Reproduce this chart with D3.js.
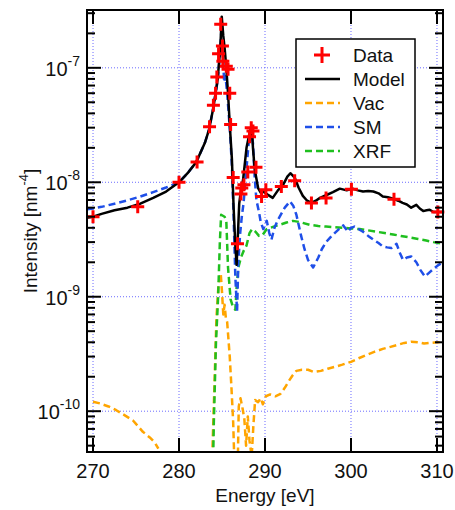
<!DOCTYPE html>
<html>
<head>
<meta charset="utf-8">
<script src="https://cdn.jsdelivr.net/npm/d3@7"></script>
<style>
  body { margin: 0; background: #fff; }
  text { font-family: "Liberation Sans", Arial, sans-serif; fill: #111; }
</style>
</head>
<body>
<svg id="chart" width="455" height="510"></svg>
<script>
// data (energy in eV, intensity in nm^-4)
var dataPts = [[270.0,5.0e-9],[275.2,6.1e-9],[280.0,1.0e-8],[282.1,1.5e-8],[283.55,3.05e-8],
  [284.0,4.7e-8],[284.25,6.0e-8],[284.4,8.3e-8],[284.6,1.33e-7],[284.85,2.4e-7],[285.05,1.55e-7],
  [285.1,1.14e-7],[285.5,1.03e-7],[285.7,9.7e-8],[285.9,6.0e-8],[286.0,3.2e-8],[286.3,1.1e-8],
  [286.8,2.9e-9],[287.2,7.9e-9],[287.3,8.9e-9],[287.55,9.5e-9],[288.0,1.23e-8],[288.2,2.5e-8],
  [288.4,3.0e-8],[288.6,2.8e-8],[288.95,1.35e-8],[289.6,7.5e-9],[290.1,8.6e-9],[291.9,9.2e-9],
  [293.45,1.03e-8],[295.4,6.6e-9],[297.1,7.3e-9],[300.05,8.7e-9],[305.0,7.1e-9],[310.1,5.5e-9]];

var modelPts = [[269.3,4.9e-9],[270,5.0e-9],[271,5.3e-9],[272.5,5.7e-9],[274,6.0e-9],[275.5,6.5e-9],
  [277,7.3e-9],[278.5,8.3e-9],[280,1.0e-8],[281,1.2e-8],[282,1.5e-8],[283,2.2e-8],[283.5,2.9e-8],
  [284,4.5e-8],[284.5,8.0e-8],[284.8,1.5e-7],[284.97,2.8e-7],[285.15,1.9e-7],[285.3,1.5e-7],
  [285.5,1.0e-7],[285.7,6.0e-8],[285.9,3.2e-8],[286.15,1.6e-8],[286.35,6.0e-9],[286.55,2.8e-9],
  [286.7,1.9e-9],[286.85,3.5e-9],[287.0,6.5e-9],[287.2,8.5e-9],[287.45,1.05e-8],[287.85,2.0e-8],
  [288.2,2.7e-8],[288.45,3.1e-8],[288.6,2.0e-8],[288.8,1.3e-8],[289.2,8.9e-9],[289.5,8.1e-9],
  [289.8,8.3e-9],[290.3,7.8e-9],[290.9,7.3e-9],[291.5,8.5e-9],[292.1,9.5e-9],[292.6,1.12e-8],
  [292.95,1.2e-8],[293.45,1.1e-8],[293.9,9.0e-9],[294.4,7.6e-9],[294.9,6.9e-9],[295.4,6.6e-9],
  [295.9,6.9e-9],[296.4,7.3e-9],[297.1,7.7e-9],[297.9,8.2e-9],[298.7,8.8e-9],[299.5,8.5e-9],
  [300.2,8.8e-9],[300.8,8.5e-9],[301.4,8.3e-9],[302.0,8.4e-9],[302.6,8.3e-9],[303.2,8.0e-9],
  [303.7,7.5e-9],[304.3,7.4e-9],[304.9,7.2e-9],[305.5,6.9e-9],[306.0,6.6e-9],[306.5,6.4e-9],
  [307.0,6.0e-9],[307.6,6.35e-9],[308.0,5.9e-9],[308.4,5.6e-9],[308.8,5.7e-9],[309.15,5.75e-9],
  [309.6,5.5e-9],[310.2,5.5e-9],[310.7,5.5e-9]];

// null = no value (gap in the log plot)
var vacPts = [[270.0,1.21e-10],[270.8,1.17e-10],[271.8,1.1e-10],[272.7,1.02e-10],[273.7,9.2e-11],
  [274.65,8.3e-11],[275.8,6.6e-11],[276.6,5.9e-11],[277.2,5.3e-11],[277.6,4.7e-11],[277.7,null],
  [283.7,null],[283.75,2e-11],[283.9,5e-11],[284.1,1.5e-10],[284.35,6.5e-10],[284.6,1.3e-9],
  [284.85,1.6e-9],[285.0,1.1e-9],[285.15,7e-10],[285.3,8.5e-10],[285.45,6.5e-10],[285.6,6e-10],
  [285.9,3e-10],[286.1,1.6e-10],[286.3,8e-11],[286.5,2.5e-11],[286.8,2.5e-11],[286.95,1.1e-10],
  [287.15,1.3e-10],[287.4,1.05e-10],[287.6,8.5e-11],[287.8,5e-11],[288.0,9e-11],[288.2,5.5e-11],
  [288.45,4e-11],[288.65,7.5e-11],[288.85,1.25e-10],[289.2,1.2e-10],[289.5,1.3e-10],
  [289.75,1.15e-10],[290.1,1.35e-10],[290.6,1.4e-10],[291.2,1.35e-10],[291.8,1.42e-10],
  [292.3,1.6e-10],[292.8,1.85e-10],[293.2,2.05e-10],[293.65,2.25e-10],[294.3,2.3e-10],
  [295.0,2.3e-10],[295.7,2.2e-10],[296.5,2.25e-10],[297.3,2.35e-10],[298.2,2.45e-10],
  [299.0,2.55e-10],[300.0,2.7e-10],[300.9,2.9e-10],[301.8,3.1e-10],[302.7,3.3e-10],
  [303.7,3.5e-10],[304.6,3.65e-10],[305.4,3.8e-10],[306.2,3.95e-10],[307.0,4.05e-10],
  [307.8,4.0e-10],[308.5,3.9e-10],[309.2,3.95e-10],[310.0,4.0e-10],[310.7,4.0e-10]];

var smPts = [[269.3,5.8e-9],[270,5.9e-9],[271,6.1e-9],[272.5,6.5e-9],[274,6.95e-9],[275.5,7.5e-9],
  [277,8.2e-9],[278.5,9.0e-9],[280,1.0e-8],[281,1.2e-8],[282,1.5e-8],[283,2.2e-8],[283.5,2.9e-8],
  [284,4.5e-8],[284.5,7.8e-8],[284.8,1.4e-7],[284.95,2.3e-7],[285.1,1.3e-7],[285.25,7.5e-8],
  [285.4,8.5e-8],[285.6,6e-8],[285.9,3e-8],[286.15,1.4e-8],[286.35,5e-9],[286.55,1.5e-9],
  [286.75,7.4e-10],[286.9,2e-9],[287.1,3.5e-9],[287.3,5e-9],[287.5,6.5e-9],[287.8,1.2e-8],
  [288.1,2.2e-8],[288.4,2.8e-8],[288.6,2.2e-8],[288.8,1.1e-8],[289.0,7e-9],[289.3,5.5e-9],
  [289.5,4.5e-9],[289.8,3.9e-9],[290.2,4.6e-9],[290.5,3.6e-9],[290.75,3.15e-9],[291.1,4.0e-9],
  [291.5,4.7e-9],[292.3,6.0e-9],[292.9,6.8e-9],[293.3,6.2e-9],[293.65,5.2e-9],[294.2,3.4e-9],
  [294.6,2.6e-9],[295.0,2.1e-9],[295.6,1.8e-9],[296.2,2.2e-9],[296.6,2.6e-9],[297.1,3.0e-9],
  [297.6,3.3e-9],[298.1,3.6e-9],[298.6,3.9e-9],[299.1,4.2e-9],[299.65,3.7e-9],[300.0,4.0e-9],
  [300.4,4.1e-9],[300.9,3.9e-9],[301.4,3.7e-9],[302.0,3.4e-9],[302.6,3.16e-9],[303.2,2.95e-9],
  [303.7,2.75e-9],[304.2,2.7e-9],[304.7,2.66e-9],[305.3,2.9e-9],[305.7,2.4e-9],[306.05,2.1e-9],
  [306.5,2.2e-9],[307.0,2.25e-9],[307.6,2.0e-9],[308.1,1.7e-9],[308.6,1.5e-9],[309.2,1.65e-9],
  [309.7,1.78e-9],[310.2,1.9e-9],[310.7,2.0e-9]];

var xrfPts = [[283.9,2e-11],[284.05,8e-11],[284.3,4e-10],[284.55,1.0e-9],[284.75,3e-9],
  [284.9,5.2e-9],[285.1,5.1e-9],[285.3,5.0e-9],[285.5,4.6e-9],[285.7,1.8e-9],[286.0,9.5e-10],
  [286.3,8e-10],[286.55,7.7e-10],[286.7,1.2e-9],[286.9,1.8e-9],[287.2,2.2e-9],[287.5,2.5e-9],
  [287.85,2.8e-9],[288.2,3.6e-9],[288.5,3.9e-9],[288.9,3.7e-9],[289.3,3.4e-9],[289.7,3.45e-9],
  [290.2,3.9e-9],[291.0,4.1e-9],[291.7,4.25e-9],[292.5,4.45e-9],[293.25,4.6e-9],[294.0,4.5e-9],
  [295.2,4.25e-9],[296.2,4.15e-9],[297.1,4.1e-9],[298.1,4.05e-9],[299.1,4.0e-9],[300.0,3.95e-9],
  [301.0,3.9e-9],[302.0,3.8e-9],[302.95,3.7e-9],[303.9,3.6e-9],[304.9,3.5e-9],[305.8,3.4e-9],
  [306.8,3.3e-9],[307.8,3.2e-9],[308.75,3.1e-9],[309.6,3.0e-9],[310.7,2.9e-9]];

var xTicks = [270, 280, 290, 300, 310];
var yExps = [-10, -9, -8, -7];
var legendNames = ["Data", "Model", "Vac", "SM", "XRF"];

var colors = { Model: "#000000", Vac: "#ffa500", SM: "#1f4fe8", XRF: "#1fbf1f", Data: "#ff0000" };

var margin = { left: 87, top: 10, right: 12, bottom: 58 };
var W = 455, H = 510;
var x0 = margin.left, x1 = W - margin.right, y0 = margin.top, y1 = H - margin.bottom;

var svg = d3.select("#chart");

var x = d3.scaleLinear().domain([269.3, 310.7]).range([x0, x1]);
var y = d3.scaleLog().domain([4.4e-11, 3.2e-7]).range([y1, y0]);

svg.append("clipPath").attr("id", "clip")
  .append("rect").attr("x", x0).attr("y", y0).attr("width", x1 - x0).attr("height", y1 - y0);

// grid
var grid = svg.append("g").attr("stroke", "#6b6bff").attr("stroke-width", 1).attr("stroke-dasharray", "1,2");
grid.selectAll(".gx").data(xTicks).enter().append("line")
  .attr("x1", function (d) { return x(d); }).attr("x2", function (d) { return x(d); })
  .attr("y1", y0).attr("y2", y1);
grid.selectAll(".gy").data(yExps).enter().append("line")
  .attr("x1", x0).attr("x2", x1)
  .attr("y1", function (d) { return y(Math.pow(10, d)); })
  .attr("y2", function (d) { return y(Math.pow(10, d)); });

// curves
var line = d3.line()
  .defined(function (d) { return d[1] !== null; })
  .x(function (d) { return x(d[0]); })
  .y(function (d) { return y(d[1]); });

var plot = svg.append("g").attr("clip-path", "url(#clip)");
var series = [
  { name: "Vac", pts: vacPts, dash: "7,4" },
  { name: "XRF", pts: xrfPts, dash: "7,4" },
  { name: "SM", pts: smPts, dash: "7,4" },
  { name: "Model", pts: modelPts, dash: null }
];
series.forEach(function (s) {
  plot.append("path")
    .attr("d", line(s.pts))
    .attr("fill", "none")
    .attr("stroke", colors[s.name])
    .attr("stroke-width", 2.5)
    .attr("stroke-dasharray", s.dash)
    .attr("stroke-linejoin", "round");
});

// data markers
function plus(g, cx, cy, r) {
  g.append("path")
    .attr("d", "M" + (cx - r) + "," + cy + "H" + (cx + r) + "M" + cx + "," + (cy - r) + "V" + (cy + r))
    .attr("stroke", colors.Data).attr("stroke-width", 3).attr("fill", "none");
}
var marks = svg.append("g");
dataPts.forEach(function (d) { plus(marks, x(d[0]), y(d[1]), 6.5); });

// frame
svg.append("rect").attr("x", x0).attr("y", y0).attr("width", x1 - x0).attr("height", y1 - y0)
  .attr("fill", "none").attr("stroke", "#000").attr("stroke-width", 2);

// ticks
var ticks = svg.append("g").attr("stroke", "#000").attr("stroke-width", 2);
xTicks.forEach(function (t) {
  ticks.append("line").attr("x1", x(t)).attr("x2", x(t)).attr("y1", y1).attr("y2", y1 - 14);
  ticks.append("line").attr("x1", x(t)).attr("x2", x(t)).attr("y1", y0).attr("y2", y0 + 14);
});
var yTickVals = y.ticks();
yTickVals.forEach(function (v) {
  var major = Math.abs(Math.log10(v) - Math.round(Math.log10(v))) < 1e-9;
  var len = major ? 14 : 8;
  ticks.append("line").attr("x1", x0).attr("x2", x0 + len).attr("y1", y(v)).attr("y2", y(v));
  ticks.append("line").attr("x1", x1).attr("x2", x1 - len).attr("y1", y(v)).attr("y2", y(v));
});

// tick labels
svg.selectAll(".xl").data(xTicks).enter().append("text")
  .attr("x", function (d) { return x(d); }).attr("y", 478)
  .attr("text-anchor", "middle").attr("font-size", 20)
  .text(function (d) { return d; });

yExps.forEach(function (e) {
  var t = svg.append("text").attr("x", 80).attr("y", y(Math.pow(10, e)) + 8)
    .attr("text-anchor", "end").attr("font-size", 20);
  t.append("tspan").text("10");
  t.append("tspan").attr("font-size", 14).attr("dy", -10).text(e);
});

// axis titles
svg.append("text").attr("x", (x0 + x1) / 2).attr("y", 502)
  .attr("text-anchor", "middle").attr("font-size", 19).text("Energy [eV]");

var yt = svg.append("text").attr("transform", "translate(37," + ((y0 + y1) / 2) + ") rotate(-90)")
  .attr("text-anchor", "middle").attr("font-size", 19);
yt.append("tspan").text("Intensity [nm");
yt.append("tspan").attr("font-size", 13).attr("dy", -9).text("-4");
yt.append("tspan").attr("dy", 9).text("]");

// legend
var lg = svg.append("g");
lg.append("rect").attr("x", 296).attr("y", 39).attr("width", 119).attr("height", 128)
  .attr("fill", "#fff").attr("stroke", "#000").attr("stroke-width", 1.5);
legendNames.forEach(function (n, i) {
  var ly = 55 + i * 24;
  if (n === "Data") {
    plus(lg, 322, ly, 8);
  } else {
    lg.append("line").attr("x1", 305).attr("x2", 340).attr("y1", ly).attr("y2", ly)
      .attr("stroke", colors[n]).attr("stroke-width", 2.5)
      .attr("stroke-dasharray", n === "Model" ? null : "7,4");
  }
  lg.append("text").attr("x", 353).attr("y", ly + 7).attr("font-size", 19).text(n);
});
</script>
</body>
</html>
